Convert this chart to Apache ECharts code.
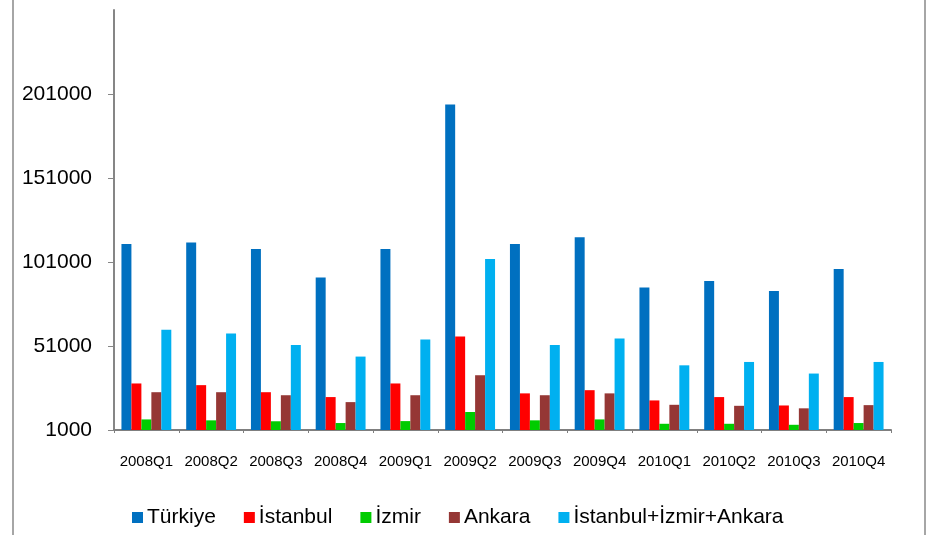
<!DOCTYPE html>
<html>
<head>
<meta charset="utf-8">
<script src="https://cdn.jsdelivr.net/npm/echarts@6/dist/echarts.min.js"></script>
<style>
  html, body { margin: 0; padding: 0; background: #fff; }
  #chart { width: 931px; height: 535px; }
</style>
</head>
<body>
<div id="chart"></div>
<script>
// Quarterly figures, 2008–2010
const quarters = ['2008Q1','2008Q2','2008Q3','2008Q4','2009Q1','2009Q2','2009Q3','2009Q4','2010Q1','2010Q2','2010Q3','2010Q4'];
const turkiye  = [111700, 112600, 108700, 91700, 108700, 194800, 111700, 115800, 85800, 89700, 83800, 96900];
const istanbul = [28700, 27700, 23500, 20600, 28700, 56700, 22800, 24700, 18600, 20600, 15600, 20600];
const izmir    = [7300, 6750, 6200, 5150, 6300, 11700, 6750, 7300, 4700, 4700, 4100, 5150];
const ankara   = [23500, 23500, 21700, 17600, 21700, 33600, 21700, 22800, 16000, 15400, 13900, 15800];
const toplam   = [60700, 58500, 51600, 44700, 54800, 102800, 51600, 55500, 39500, 41500, 34600, 41500];
const yTicks   = [1000, 51000, 101000, 151000, 201000];

const names  = ['Türkiye', 'İstanbul', 'İzmir', 'Ankara', 'İstanbul+İzmir+Ankara'];
const colors = ['#0070C0', '#FF0000', '#00CC00', '#953735', '#00B0F0'];
const values = [turkiye, istanbul, izmir, ankara, toplam];

const font = '"Liberation Sans", Arial, sans-serif';
const chart = echarts.init(document.getElementById('chart'), null, { renderer: 'canvas' });

chart.setOption({
  animation: false,
  textStyle: { fontFamily: font },
  graphic: [{
    type: 'rect',
    shape: { x: 13, y: -10, width: 912, height: 560 },
    style: { fill: 'none', stroke: '#A6A6A6', lineWidth: 2 },
    silent: true
  }],
  grid: { left: 114, right: 40, top: 10, bottom: 105 },
  legend: {
    data: names,
    left: 132,
    top: 507,
    padding: 0,
    icon: 'rect',
    itemWidth: 11,
    itemHeight: 11,
    itemGap: 28,
    textStyle: { fontSize: 21, color: '#000', fontFamily: font, padding: [0, 0, 0, -1] }
  },
  xAxis: {
    type: 'category',
    data: quarters,
    axisLine: { lineStyle: { color: '#7F7F7F', width: 2 } },
    axisTick: { show: true, length: 3, lineStyle: { color: '#7F7F7F' } },
    axisLabel: { fontSize: 15, color: '#000', margin: 24, fontFamily: font, interval: 0 }
  },
  yAxis: {
    type: 'value',
    min: 1000,
    max: 251000,
    splitLine: { show: false },
    axisLine: { show: true, lineStyle: { color: '#868686', width: 2 } },
    axisTick: { show: true, length: 6, customValues: yTicks, lineStyle: { color: '#868686' } },
    axisLabel: {
      fontSize: 21, color: '#000', margin: 22, fontFamily: font,
      customValues: yTicks,
      formatter: v => String(v)
    }
  },
  series: names.map((n, i) => ({
    name: n,
    type: 'bar',
    data: values[i],
    barGap: '0%',
    barCategoryGap: '23%',
    itemStyle: { color: colors[i] }
  }))
});
</script>
</body>
</html>
